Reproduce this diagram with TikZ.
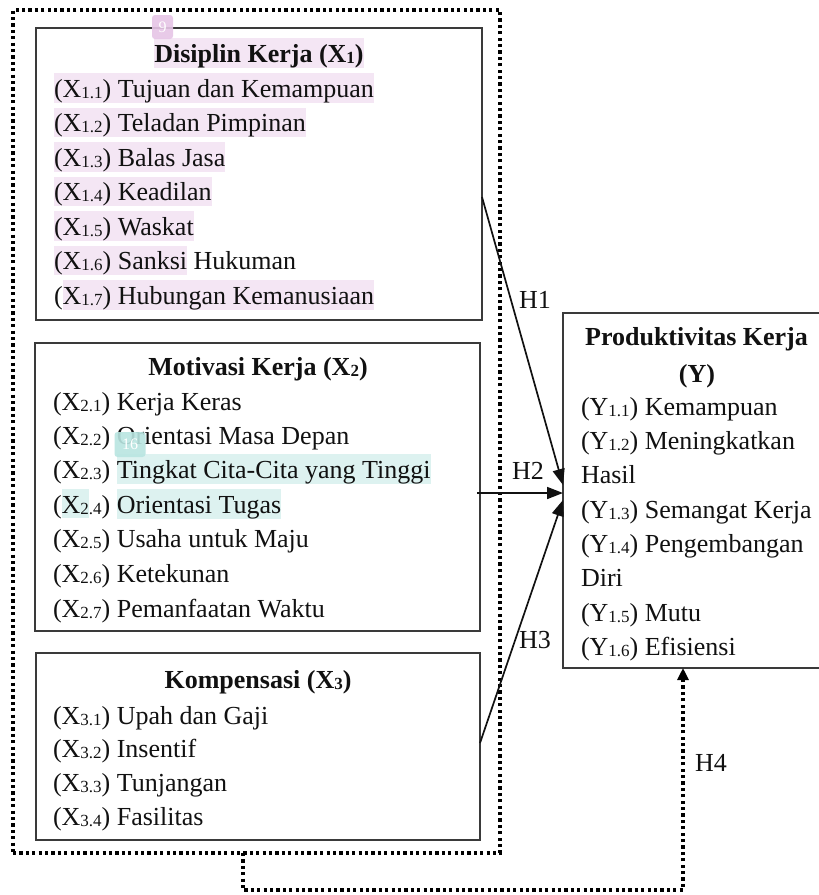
\documentclass[tikz,border=0pt]{standalone}
\usepackage{fontspec}
\setmainfont{Liberation Serif}
\usetikzlibrary{arrows.meta,calc}
\definecolor{pinkhl}{HTML}{F4E6F4}
\definecolor{cyanhl}{HTML}{DDF2F0}
\definecolor{pinkbadge}{HTML}{E6C5E6}
\definecolor{cyanbadge}{HTML}{B9E5E1}
\definecolor{boxline}{HTML}{3A3A3A}
\definecolor{inkc}{HTML}{111111}
\newcommand\subx[1]{\raisebox{-1pt}{\fontsize{17}{17}\selectfont #1}}
\newcommand\hlp[1]{{\setlength\fboxsep{0pt}\colorbox{pinkhl}{\rule[-5pt]{0pt}{29pt}#1}}}
\newcommand\hlc[1]{{\setlength\fboxsep{0pt}\colorbox{cyanhl}{\rule[-5pt]{0pt}{29pt}#1}}}
\begin{document}
\begin{tikzpicture}[x=1pt,y=-1pt,
  font=\fontsize{26}{30}\selectfont,
  every node/.style={inner sep=0pt, outer sep=0pt, text=inkc},
  framebox/.style={draw=boxline, line width=1.6pt, rectangle},
  dotline/.style={draw=black, line width=3.2pt, dash pattern=on 3.2pt off 3.2pt},
  txt/.style={anchor=base west},
  ttl/.style={anchor=base, font=\fontsize{26}{30}\selectfont\bfseries},
  hlabel/.style={anchor=base west},
  arr/.style={draw=inkc, line width=1.7pt, -{Triangle[length=16pt,width=12pt]}},
  badge/.style={rounded corners=3pt, text=white, font=\fontsize{16}{16}\selectfont, opacity=0.9, text opacity=1}
]
\useasboundingbox (0,0) rectangle (819,895);
\fill[white] (0,0) rectangle (819,895);

% boxes
\node[dotline, rectangle, minimum width=487pt, minimum height=843pt] (outer) at (256.5,431.5) {};
\node[framebox, minimum width=446pt, minimum height=292pt] (x1) at (259,174) {};
\node[framebox, minimum width=445pt, minimum height=288pt] (x2) at (257.5,487) {};
\node[framebox, minimum width=444pt, minimum height=187pt] (x3) at (258,746.5) {};
\node[framebox, minimum width=267pt, minimum height=355pt] (yb) at (696.5,490.5) {};

% X1 texts
\node[ttl] (t1) at (259,62) {\hlp{Disiplin Kerja (X\subx{1})}};
\node[txt] (l11) at (54,97) {\hlp{(X\subx{1.1}) Tujuan dan Kemampuan}};
\node[txt] (l12) at (54,131.5) {\hlp{(X\subx{1.2}) Teladan Pimpinan}};
\node[txt] (l13) at (54,166) {\hlp{(X\subx{1.3}) Balas Jasa}};
\node[txt] (l14) at (54,200.5) {\hlp{(X\subx{1.4}) Keadilan}};
\node[txt] (l15) at (54,235) {\hlp{(X\subx{1.5}) Waskat}};
\node[txt] (l16) at (54,269.5) {\hlp{(X\subx{1.6}) Sanksi} Hukuman};
\node[txt] (l17) at (54,304) {(\hlp{X\subx{1.7}) Hubungan Kemanusiaan}};
\node[badge, fill=pinkbadge, minimum width=21pt, minimum height=24pt] (b9) at (162.5,27) {9};

% X2 texts
\node[ttl] (t2) at (258,375) {Motivasi Kerja (X\subx{2})};
\node[txt] (l21) at (53,410) {(X\subx{2.1}) Kerja Keras};
\node[txt] (l22) at (53,444) {(X\subx{2.2}) Orientasi Masa Depan};
\node[txt] (l23) at (53,478) {(X\subx{2.3}) \hlc{Tingkat Cita-Cita yang Tinggi}};
\node[txt] (l24) at (53,513) {(\hlc{X\subx{2}}\subx{.4}) \hlc{Orientasi Tugas}};
\node[txt] (l25) at (53,547) {(X\subx{2.5}) Usaha untuk Maju};
\node[txt] (l26) at (53,582) {(X\subx{2.6}) Ketekunan};
\node[txt] (l27) at (53,617) {(X\subx{2.7}) Pemanfaatan Waktu};
\node[badge, fill=cyanbadge, minimum width=31pt, minimum height=25pt] (b16) at (130,444.5) {16};

% X3 texts
\node[ttl] (t3) at (258,688) {Kompensasi (X\subx{3})};
\node[txt] (l31) at (53,724) {(X\subx{3.1}) Upah dan Gaji};
\node[txt] (l32) at (53,757) {(X\subx{3.2}) Insentif};
\node[txt] (l33) at (53,791) {(X\subx{3.3}) Tunjangan};
\node[txt] (l34) at (53,825) {(X\subx{3.4}) Fasilitas};

% Y texts
\node[ttl] (ty1) at (696.5,345) {Produktivitas Kerja};
\node[ttl] (ty2) at (697,382) {(Y)};
\node[txt] (ly1) at (581,415) {(Y\subx{1.1}) Kemampuan};
\node[txt] (ly2) at (581,449) {(Y\subx{1.2}) Meningkatkan};
\node[txt] (ly3) at (581,483) {Hasil};
\node[txt] (ly4) at (581,518) {(Y\subx{1.3}) Semangat Kerja};
\node[txt] (ly5) at (581,552) {(Y\subx{1.4}) Pengembangan};
\node[txt] (ly6) at (581,586) {Diri};
\node[txt] (ly7) at (581,621) {(Y\subx{1.5}) Mutu};
\node[txt] (ly8) at (581,655) {(Y\subx{1.6}) Efisiensi};

% connectors
\draw[arr] ([yshift=-23pt]x1.east) -- ([yshift=5.5pt]yb.west);
\draw[arr] ([yshift=-6pt,xshift=-3pt]x2.east) -- ([yshift=-2.5pt]yb.west);
\draw[arr] ([yshift=3.5pt]x3.east) -- ([yshift=-9.5pt]yb.west);
\draw[dotline, -{Triangle[length=12pt,width=11pt]}] ([xshift=-13.5pt]outer.south) -- ++(0,37) -| ([xshift=-13.5pt]yb.south);

% labels
\node[hlabel] (h1) at (519,308) {H1};
\node[hlabel] (h2) at (512,479) {H2};
\node[hlabel] (h3) at (519,648) {H3};
\node[hlabel] (h4) at (695,771) {H4};
\end{tikzpicture}
\end{document}
